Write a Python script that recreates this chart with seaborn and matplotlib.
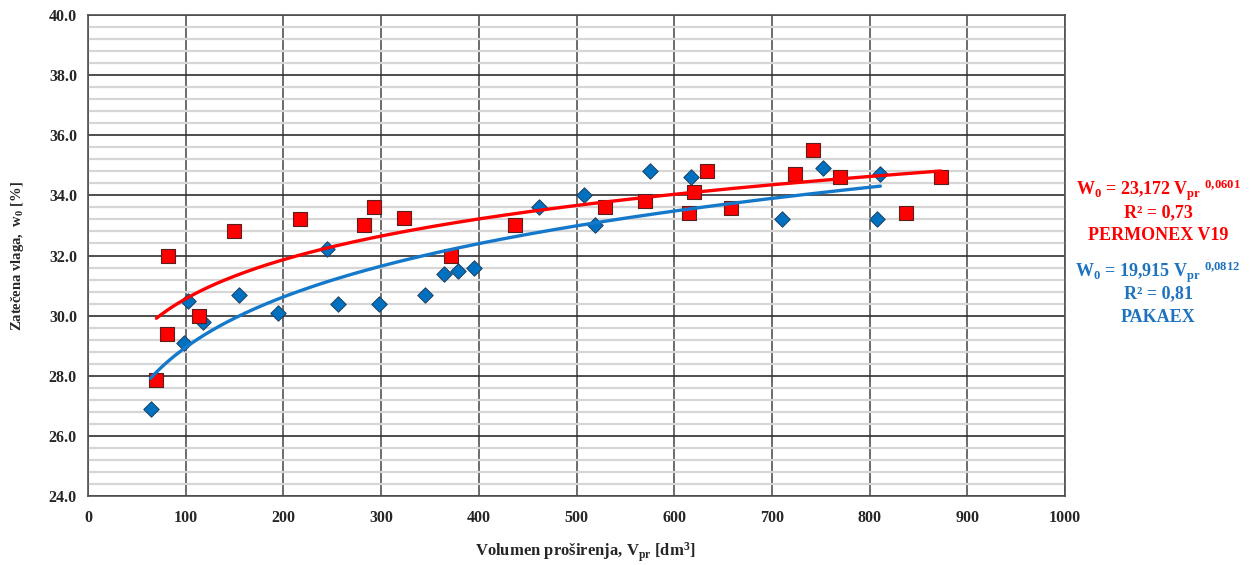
import numpy as np
import pandas as pd
import matplotlib
matplotlib.use("Agg")
import matplotlib.pyplot as plt
import seaborn as sns
from matplotlib.ticker import MultipleLocator, FormatStrFormatter

# ---------------- data ----------------
perm_x = [70, 81, 82, 114, 149, 217, 282, 293, 323, 372,
          437, 529, 570, 615, 620, 634, 658, 724, 742, 770, 837, 873]
perm_y = [27.85, 29.4, 32.0, 30.0, 32.8, 33.2, 33.0, 33.6, 33.25, 32.0,
          33.0, 33.6, 33.8, 33.4, 34.1, 34.8, 33.58, 34.7, 35.5, 34.6, 33.4, 34.6]

pak_x = [64, 98, 102, 118, 155, 194, 245, 256, 298, 345, 364, 379, 395,
         462, 508, 519, 575, 617, 710, 752, 808, 811]
pak_y = [26.9, 29.1, 30.5, 29.8, 30.7, 30.1, 32.2, 30.4, 30.4, 30.7, 31.4, 31.5, 31.6,
         33.6, 34.0, 33.0, 34.8, 34.6, 33.2, 34.9, 33.2, 34.7]

# trend-line coefficients (W0 = a * Vpr^b) as printed on the chart
perm_coef = [23.172, 0.0601]
pak_coef = [19.915, 0.0812]
perm_r2 = "0,73"
pak_r2 = "0,81"
perm_name = "PERMONEX V19"
pak_name = "PAKAEX"

xticks = [0, 100, 200, 300, 400, 500, 600, 700, 800, 900, 1000]
yticks = [24, 26, 28, 30, 32, 34, 36, 38, 40]

RED = "#FF0000"
BLUE = "#0070C0"
BLUE_LINE = "#1479CA"
BLUE_TXT = "#1E73BE"

# ---------------- style ----------------
sns.set_theme(style="white")
plt.rcParams["font.family"] = ["Liberation Serif", "DejaVu Serif"]
plt.rcParams["font.weight"] = "bold"
plt.rcParams["mathtext.fontset"] = "custom"
plt.rcParams["mathtext.rm"] = "Liberation Serif:bold"
plt.rcParams["mathtext.it"] = "Liberation Serif:bold"
plt.rcParams["mathtext.bf"] = "Liberation Serif:bold"

fig = plt.figure(figsize=(12.51, 5.65), dpi=100)
ax = fig.add_axes([88 / 1251, 1 - 496 / 565, (1065 - 88) / 1251, (496 - 15) / 565])

df_p = pd.DataFrame({"x": perm_x, "y": perm_y})
df_b = pd.DataFrame({"x": pak_x, "y": pak_y})

# trend lines
xp = np.linspace(min(perm_x), max(perm_x), 300)
xb = np.linspace(min(pak_x), max(pak_x), 300)
tp = pd.DataFrame({"x": xp, "y": perm_coef[0] * xp ** perm_coef[1]})
tb = pd.DataFrame({"x": xb, "y": pak_coef[0] * xb ** pak_coef[1]})

sns.scatterplot(data=df_b, x="x", y="y", ax=ax, marker="D", s=62, color=BLUE,
                edgecolor="#1F3F60", linewidth=0.7, zorder=3)
sns.scatterplot(data=df_p, x="x", y="y", ax=ax, marker="s", s=95, color=RED,
                edgecolor="#5A2020", linewidth=0.8, zorder=4)
sns.lineplot(data=tp, x="x", y="y", ax=ax, color=RED, lw=2.4, zorder=5,
             estimator=None, sort=False)
sns.lineplot(data=tb, x="x", y="y", ax=ax, color=BLUE_LINE, lw=2.4, zorder=5,
             estimator=None, sort=False)

ax.set_xlim(0, 1000)
ax.set_ylim(24, 40)
ax.set_xticks(xticks)
ax.set_yticks(yticks)
ax.yaxis.set_minor_locator(MultipleLocator(0.4))
ax.yaxis.set_major_formatter(FormatStrFormatter("%.1f"))

ax.grid(False)
ax.yaxis.grid(True, which="minor", color="#D6D6D6", lw=1.6, zorder=0)
ax.yaxis.grid(True, which="major", color="#303030", lw=1.2, zorder=1)
ax.xaxis.grid(True, which="major", color="#606060", lw=1.3, zorder=1)
ax.set_axisbelow(True)

for s in ax.spines.values():
    s.set_visible(True)
    s.set_color("#505050")
    s.set_linewidth(1.2)

ax.tick_params(axis="both", which="both", length=0)
ax.tick_params(axis="y", pad=8, labelsize=11.5)
ax.tick_params(axis="x", pad=10, labelsize=11.5)
for lab in ax.get_xticklabels() + ax.get_yticklabels():
    lab.set_fontweight("bold")

ax.set_xlabel(r"Volumen proširenja, V$_{\mathrm{pr}}$ [dm$^{\mathrm{3}}$]",
              fontsize=12, fontweight="bold")
ax.set_ylabel(r"Zatečena vlaga,  w$_{\mathrm{0}}$ [%]",
              fontsize=10.5, fontweight="bold")
ax.xaxis.set_label_coords((585 - 88) / (1065 - 88), -(540 - 496) / (496 - 15))
ax.yaxis.set_label_coords(-(88 - 26) / (1065 - 88), (496 - 256) / (496 - 15))

# annotations
cx = 1158 / 1251
def ftxt(y, s, c, size=13):
    fig.text(cx, 1 - y / 565, s, color=c, ha="center", va="center",
             fontsize=size, fontweight="bold")

def eq(a, b):
    a_s = f"{a:.3f}".replace(".", "{,}")
    b_s = f"{b:.4f}".replace(".", "{,}")
    return (r"W$_{\mathrm{0}}$ = " + f"${a_s}$" + r" V$_{\mathrm{pr}}$ " +
            r"$^{\mathrm{" + b_s + "}}$")

ftxt(190, eq(*perm_coef), RED)
ftxt(213, f"R² = {perm_r2}", RED)
ftxt(236, perm_name, RED)
ftxt(272, eq(*pak_coef), BLUE_TXT)
ftxt(294, f"R² = {pak_r2}", BLUE_TXT)
ftxt(318, pak_name, BLUE_TXT)

fig.savefig("out.png", dpi=100, facecolor="white")
